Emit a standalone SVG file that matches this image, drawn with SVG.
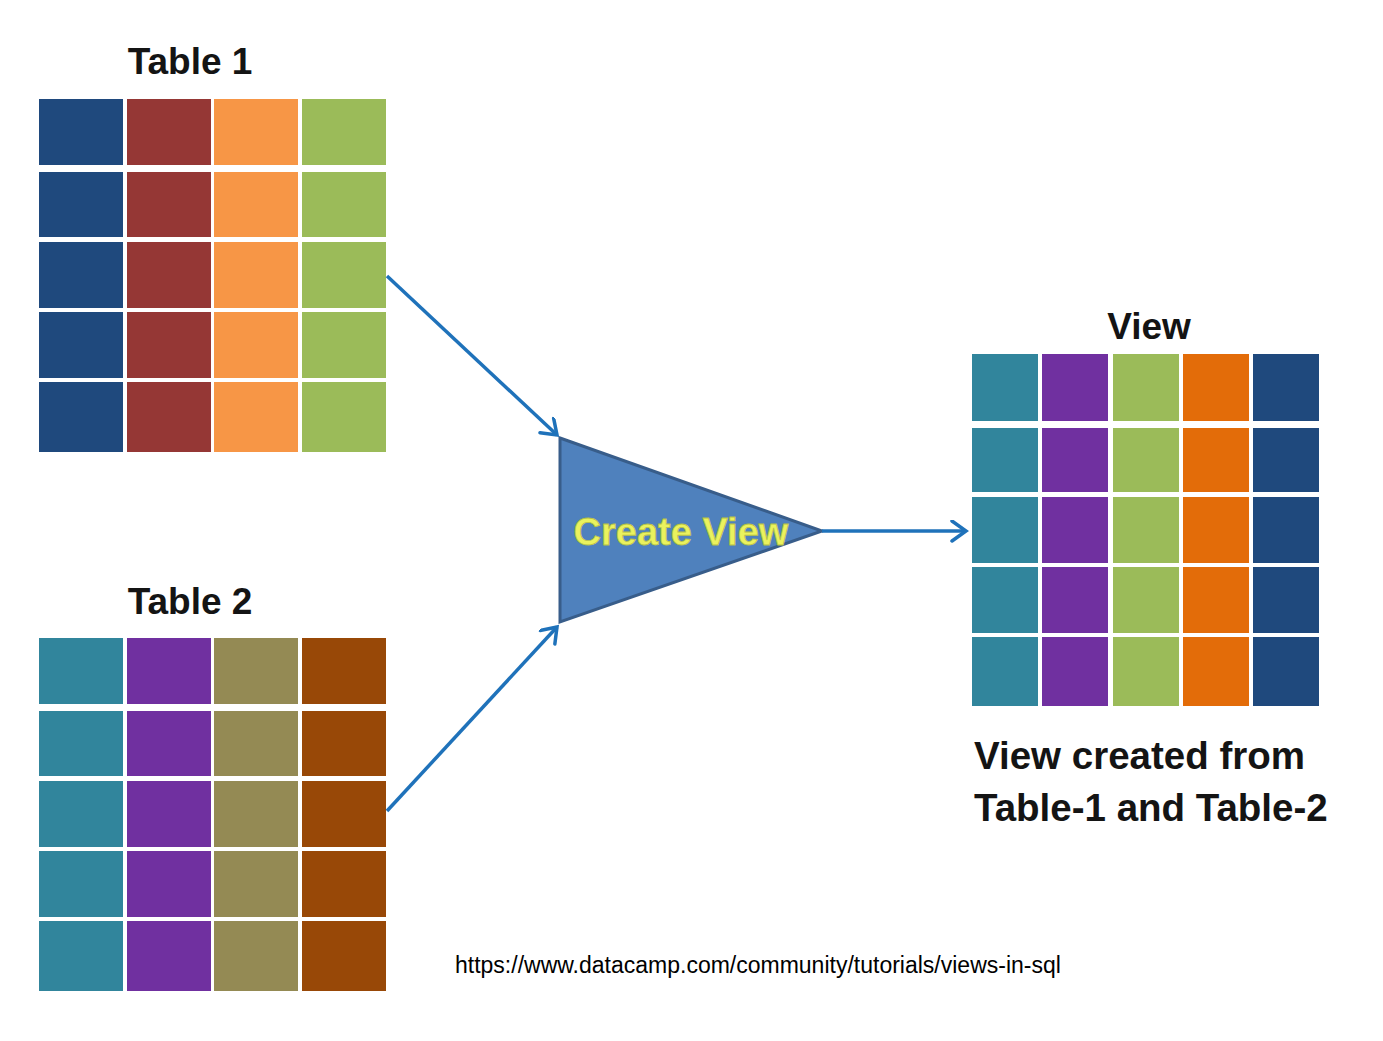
<svg xmlns="http://www.w3.org/2000/svg" width="1383" height="1041" viewBox="0 0 1383 1041">
<style>
.title{font-family:"Liberation Sans",Arial,sans-serif;font-weight:bold;font-size:37px;fill:#141414}
.cap{font-family:"Liberation Sans",Arial,sans-serif;font-weight:bold;font-size:38.5px;fill:#141414}
.url{font-family:"Liberation Sans",Arial,sans-serif;font-size:23px;fill:#000}
.cv{font-family:"Liberation Sans",Arial,sans-serif;font-weight:bold;font-size:38px;fill:#EAF25E;stroke:#B9C244;stroke-width:0.8}
.conn{stroke:#1F72BA;stroke-width:3.5;fill:none}
.c1{fill:#1F497D}.c2{fill:#953735}.c3{fill:#F79646}.c4{fill:#9BBB59}
.d1{fill:#31859C}.d2{fill:#7030A0}.d3{fill:#948A54}.d4{fill:#984807}
.e4{fill:#E36C09}
</style>
<defs>
<marker id="arr" markerUnits="userSpaceOnUse" markerWidth="30" markerHeight="30" refX="16" refY="11" orient="auto">
<path d="M2,1 L16,11 L2,21" fill="none" stroke="#1F72BA" stroke-width="3.5" stroke-linecap="round"/>
</marker>
<g id="col1">
<rect x="0" y="0" width="84" height="66"/>
<rect x="0" y="73" width="84" height="65"/>
<rect x="0" y="143" width="84" height="66"/>
<rect x="0" y="213" width="84" height="66"/>
<rect x="0" y="283" width="84" height="70"/>
</g>
<g id="colv">
<rect x="0" y="0" width="66" height="67"/>
<rect x="0" y="74" width="66" height="64"/>
<rect x="0" y="143" width="66" height="66"/>
<rect x="0" y="213" width="66" height="66"/>
<rect x="0" y="283" width="66" height="69"/>
</g>
</defs>
<rect width="1383" height="1041" fill="#fff"/>

<g id="table1">
<text class="title" x="190" y="74" text-anchor="middle">Table 1</text>
<use href="#col1" x="39" y="99" class="c1"/>
<use href="#col1" x="127" y="99" class="c2"/>
<use href="#col1" x="214" y="99" class="c3"/>
<use href="#col1" x="302" y="99" class="c4"/>
</g>

<g id="table2">
<text class="title" x="190" y="614" text-anchor="middle">Table 2</text>
<use href="#col1" x="39" y="638" class="d1"/>
<use href="#col1" x="127" y="638" class="d2"/>
<use href="#col1" x="214" y="638" class="d3"/>
<use href="#col1" x="302" y="638" class="d4"/>
</g>

<g id="create-view">
<polygon points="560,438 822,531 560,622" fill="#4F81BD" stroke="#385D8A" stroke-width="3" stroke-linejoin="miter"/>
<text class="cv" x="681" y="545" text-anchor="middle">Create View</text>
</g>

<g id="view">
<text class="title" x="1149" y="339" text-anchor="middle">View</text>
<use href="#colv" x="972" y="354" class="d1"/>
<use href="#colv" x="1042" y="354" class="d2"/>
<use href="#colv" x="1113" y="354" class="c4"/>
<use href="#colv" x="1183" y="354" class="e4"/>
<use href="#colv" x="1253" y="354" class="c1"/>
<text class="cap" x="974" y="769">View created from</text>
<text class="cap" x="974" y="821">Table-1 and Table-2</text>
</g>

<g id="connectors">
<line class="conn" x1="387" y1="276" x2="557" y2="435" marker-end="url(#arr)"/>
<line class="conn" x1="387" y1="811" x2="557" y2="627" marker-end="url(#arr)"/>
<line class="conn" x1="822" y1="531" x2="966" y2="531" marker-end="url(#arr)"/>
</g>

<text class="url" x="455" y="973">https://www.datacamp.com/community/tutorials/views-in-sql</text>
</svg>
